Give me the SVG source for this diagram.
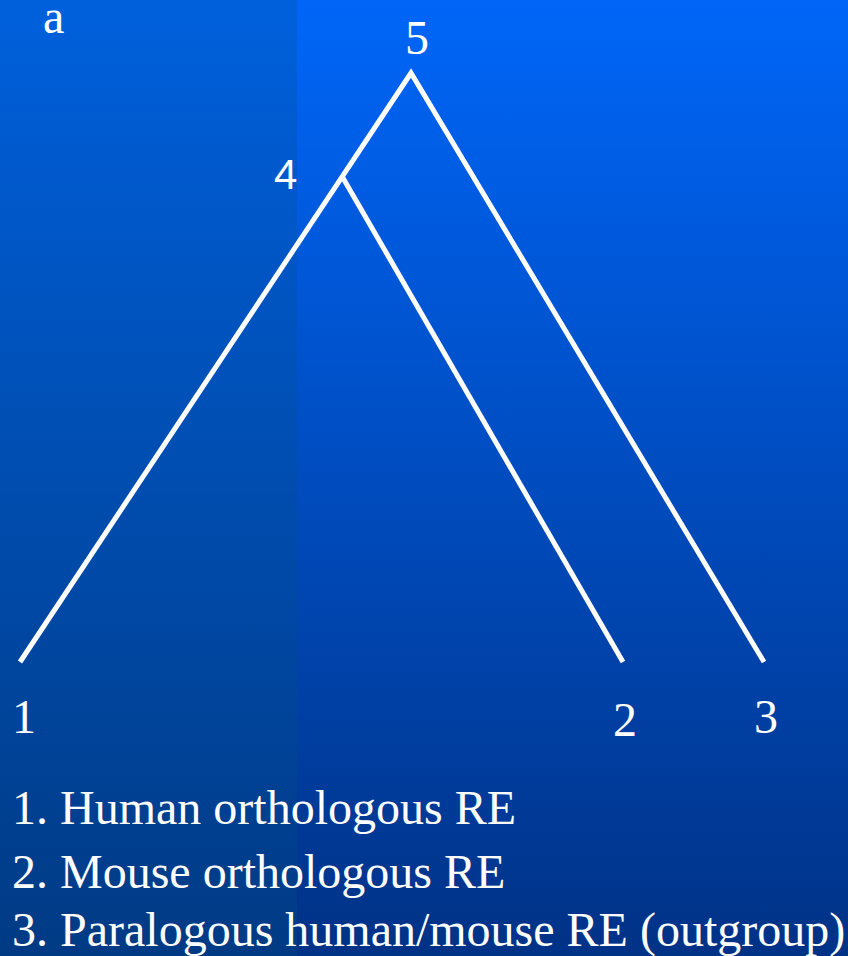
<svg xmlns="http://www.w3.org/2000/svg" width="848" height="956" viewBox="0 0 848 956">
<defs>
<linearGradient id="gR" x1="0" y1="0" x2="0" y2="1">
<stop offset="0" stop-color="#0066f8"/>
<stop offset="1" stop-color="#003286"/>
</linearGradient>
<linearGradient id="gL" x1="0" y1="0" x2="0" y2="1">
<stop offset="0" stop-color="#0060dc"/>
<stop offset="1" stop-color="#003a84"/>
</linearGradient>
</defs>
<style>
.t{font-family:"Liberation Serif","Times New Roman",serif;fill:#fff;font-size:48px}
.s{font-family:"Liberation Sans",Arial,sans-serif;fill:#fff;font-size:42px}
.e{stroke:#fff;stroke-width:5;fill:none;stroke-linecap:butt}
</style>
<rect x="0" y="0" width="848" height="956" fill="url(#gR)"/>
<rect x="0" y="0" width="297" height="956" fill="url(#gL)"/>
<text class="t" x="43" y="33" font-size="50">a</text>
<g id="connectors">
<path class="e" d="M20,662 L411,73 L764,662"/>
<path class="e" d="M343,178 L623,662"/>
</g>
<g id="node5"><text class="t" x="405" y="54">5</text></g>
<g id="node4"><text class="s" x="274" y="189">4</text></g>
<g id="node1"><text class="t" x="12" y="733">1</text></g>
<g id="node2"><text class="t" x="613" y="736">2</text></g>
<g id="node3"><text class="t" x="754" y="733">3</text></g>
<g id="legend">
<text class="t" x="12" y="824">1. Human orthologous RE</text>
<text class="t" x="12" y="888">2. Mouse orthologous RE</text>
<text class="t" x="12" y="946">3. Paralogous human/mouse RE (outgroup)</text>
</g>
</svg>
